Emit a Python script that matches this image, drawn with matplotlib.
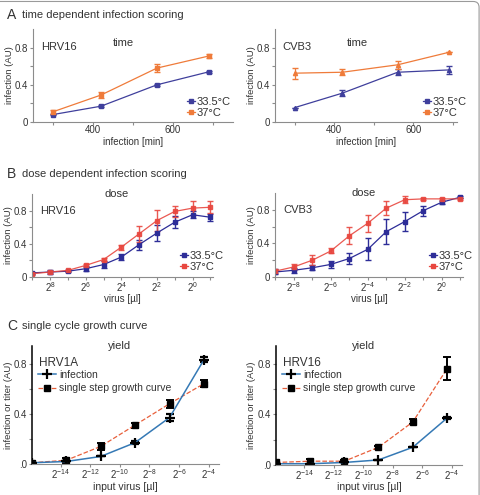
import matplotlib
matplotlib.use("Agg")
import matplotlib.pyplot as plt
from matplotlib.patches import FancyBboxPatch
from matplotlib.lines import Line2D

plt.rcParams['font.family'] = ['Liberation Sans', 'DejaVu Sans']
plt.rcParams['mathtext.fontset'] = 'custom'
plt.rcParams['mathtext.rm'] = 'Liberation Sans'
plt.rcParams['mathtext.it'] = 'Liberation Sans:italic'

# ---- data ----
# A: time dependent infection scoring
time_min = [300, 420, 560, 690]
a_hrv_335 = [0.08, 0.17, 0.40, 0.54]
a_hrv_335_err = [0.01, 0.01, 0.01, 0.01]
a_hrv_37 = [0.11, 0.29, 0.58, 0.71]
a_hrv_37_err = [0.02, 0.03, 0.04, 0.02]
a_cvb_335 = [0.155, 0.31, 0.535, 0.56]
a_cvb_335_err = [0.0, 0.03, 0.03, 0.04]
a_cvb_37 = [0.525, 0.535, 0.615, 0.75]
a_cvb_37_err = [0.06, 0.03, 0.04, 0.0]

# B: dose dependent infection scoring (log2 of virus volume)
dose_exp = [-9, -8, -7, -6, -5, -4, -3, -2, -1, 0, 1]
b_hrv_335 = [0.05, 0.06, 0.07, 0.10, 0.15, 0.24, 0.39, 0.53, 0.66, 0.75, 0.72]
b_hrv_335_err = [0.01, 0.02, 0.01, 0.03, 0.04, 0.04, 0.06, 0.10, 0.07, 0.04, 0.04]
b_hrv_37 = [0.04, 0.06, 0.08, 0.14, 0.21, 0.36, 0.52, 0.68, 0.79, 0.83, 0.84]
b_hrv_37_err = [0.01, 0.01, 0.01, 0.02, 0.02, 0.03, 0.10, 0.13, 0.07, 0.08, 0.07]
b_cvb_335 = [0.06, 0.08, 0.11, 0.15, 0.22, 0.33, 0.54, 0.66, 0.79, 0.89, 0.95]
b_cvb_335_err = [0.03, 0.03, 0.03, 0.04, 0.06, 0.13, 0.15, 0.11, 0.06, 0.02, 0.01]
b_cvb_37 = [0.07, 0.12, 0.20, 0.31, 0.49, 0.64, 0.82, 0.92, 0.93, 0.93, 0.93]
b_cvb_37_err = [0.02, 0.04, 0.06, 0.03, 0.10, 0.10, 0.08, 0.04, 0.01, 0.01, 0.01]

# C: single cycle growth curve (log2 of input virus)
input_exp = [-15.93, -13.61, -11.29, -8.97, -6.64, -4.32]
c_1a_inf = [0.01, 0.02, 0.06, 0.17, 0.37, 0.83]
c_1a_inf_err = [0.0, 0.0, 0.0, 0.01, 0.03, 0.02]
c_1a_yield = [0.01, 0.03, 0.14, 0.31, 0.48, 0.64]
c_1a_yield_err = [0.01, 0.02, 0.03, 0.02, 0.03, 0.03]
c_16_inf = [0.01, 0.01, 0.02, 0.04, 0.14, 0.37]
c_16_inf_err = [0.0, 0.0, 0.0, 0.0, 0.0, 0.01]
c_16_yield = [0.02, 0.03, 0.03, 0.14, 0.34, 0.76]
c_16_yield_err = [0.01, 0.02, 0.01, 0.01, 0.02, 0.09]

BLUE_A = '#3f3f9c'
ORANGE_A = '#ef7b3a'
BLUE_B = '#2d2d98'
RED_B = '#e8473f'
BLUE_C = '#3579b5'
RED_C = '#e8603c'
GRAY = '#8c8c8c'
TXT = '#333333'

W, H = 481, 495
fig = plt.figure(figsize=(W / 100, H / 100), dpi=100)


def px_axes(x0, x1, ytop, ybot):
    ax = fig.add_axes([x0 / W, 1 - ybot / H, (x1 - x0) / W, (ybot - ytop) / H])
    ax.px = (x0, x1, ytop, ybot)
    return ax


def place_labels(ax, ylab_x, xlab_y):
    x0, x1, ytop, ybot = ax.px
    ax.yaxis.set_label_coords((ylab_x - x0) / (x1 - x0), 0.5)
    ax.yaxis.label.set_va('center')
    ax.xaxis.set_label_coords(0.5, (ybot - xlab_y) / (ybot - ytop))
    ax.xaxis.label.set_va('center')


def at_px(ax, x, y):
    x0, x1, ytop, ybot = ax.px
    return ((x - x0) / (x1 - x0), (ybot - y) / (ybot - ytop))


def style(ax, ycol=GRAY):
    for s in ['top', 'right']:
        ax.spines[s].set_visible(False)
    ax.spines['bottom'].set_color(GRAY)
    ax.spines['left'].set_color(ycol)
    ax.tick_params(colors=GRAY, labelcolor=TXT, labelsize=7, length=3, width=0.8)
    ax.tick_params(axis='x', pad=0, length=2.5)
    ax.tick_params(axis='y', pad=1, length=2.5)
    ax.tick_params(which='minor', colors=GRAY, length=2.5, width=0.8)
    ax.set_yticks([0, 0.4, 0.8])
    ax.set_yticklabels(['0', '0.4', '0.8'])
    ax.set_yticks([0.2, 0.6], minor=True)


def legend_temp(ax, c1, c2, mk, ms, x, y):
    h = [Line2D([], [], color=c1, marker=mk, ms=ms, lw=0.9),
         Line2D([], [], color=c2, marker=mk, ms=ms, lw=0.9)]
    ax.legend(h, ['33.5°C', '37°C'], loc='lower right', bbox_to_anchor=at_px(ax, x, y),
              frameon=False, fontsize=8, handlelength=0.7, handletextpad=0.15,
              labelspacing=0.1, borderpad=0, borderaxespad=0, labelcolor=TXT)


# ---- A ----
axA1 = px_axes(33, 233, 29, 122)
axA2 = px_axes(275, 457, 29, 122)
for ax, d1, e1, d2, e2, name, mk, xmax, lx, legx in [
        (axA1, a_hrv_335, a_hrv_335_err, a_hrv_37, a_hrv_37_err, 'HRV16', 's', 750, 9.5, 231),
        (axA2, a_cvb_335, a_cvb_335_err, a_cvb_37, a_cvb_37_err, 'CVB3', '^', 710, 251.5, 467)]:
    ax.errorbar(time_min, d1, yerr=e1, color=BLUE_A, marker=mk, ms=3, lw=0.9,
                capsize=2, elinewidth=0.9)
    ax.errorbar(time_min, d2, yerr=e2, color=ORANGE_A, marker=mk, ms=3, lw=0.9,
                capsize=2, elinewidth=0.9)
    style(ax)
    ax.set_xlim(250, xmax)
    ax.set_ylim(0, 1.0)
    ax.set_xticks([400, 600])
    ax.set_xticks([300, 500, 700], minor=True)
    ax.set_xlabel('infection [min]', fontsize=7, color=TXT)
    ax.set_ylabel('infection (AU)', fontsize=6.8, color=TXT)
    place_labels(ax, lx, 142)
    ax.text(0.04, 0.81, name, transform=ax.transAxes, fontsize=8, color=TXT, va='center')
    ax.text(0.45, 0.85, 'time', transform=ax.transAxes, fontsize=8, color=TXT,
            va='center', ha='center')
    legend_temp(ax, BLUE_A, ORANGE_A, 's', 3, legx, 118)

# ---- B ----
axB1 = px_axes(32, 213, 194, 277)
axB2 = px_axes(275, 463, 193, 277)
for ax, d1, e1, d2, e2, name, neg, lx, legx in [
        (axB1, b_hrv_335, b_hrv_335_err, b_hrv_37, b_hrv_37_err, 'HRV16', '', 9, 224),
        (axB2, b_cvb_335, b_cvb_335_err, b_cvb_37, b_cvb_37_err, 'CVB3', '-', 251.5, 473)]:
    ax.errorbar(dose_exp, d1, yerr=e1, color=BLUE_B, marker='s', ms=3.5, lw=0.9,
                capsize=2.5, elinewidth=1.0)
    ax.errorbar(dose_exp, d2, yerr=e2, color=RED_B, marker='s', ms=3.5, lw=0.9,
                capsize=2.5, elinewidth=1.0, alpha=0.9)
    style(ax)
    ax.set_xlim(-9.02, 1.15)
    ax.set_ylim(0, 1.0)
    ax.set_xticks([-8, -6, -4, -2, 0])
    ax.set_xticklabels([r'$\mathregular{2^{%s8}}$' % neg, r'$\mathregular{2^{%s6}}$' % neg,
                        r'$\mathregular{2^{%s4}}$' % neg, r'$\mathregular{2^{%s2}}$' % neg,
                        r'$\mathregular{2^{0}}$'])
    ax.set_xticks([-9, -7, -5, -3, -1, 1], minor=True)
    ax.set_xlabel('virus [µl]', fontsize=7, color=TXT)
    ax.set_ylabel('infection (AU)', fontsize=6.8, color=TXT)
    place_labels(ax, lx, 299)
    ax.text(0.045, 0.80, name, transform=ax.transAxes, fontsize=8, color=TXT, va='center')
    ax.text(0.47, 1.0, 'dose', transform=ax.transAxes, fontsize=8, color=TXT,
            va='center', ha='center')
    legend_temp(ax, BLUE_B, RED_B, 's', 3.5, legx, 272)

# ---- C ----
axC1 = px_axes(32, 219, 346, 464)
axC2 = px_axes(276, 462, 346, 465)
for ax, inf, inf_e, yl, yl_e, name, lx in [
        (axC1, c_1a_inf, c_1a_inf_err, c_1a_yield, c_1a_yield_err, 'HRV1A', 9),
        (axC2, c_16_inf, c_16_inf_err, c_16_yield, c_16_yield_err, 'HRV16', 251)]:
    ax.errorbar(input_exp, yl, yerr=yl_e, color=RED_C, ls='--', lw=0.9,
                marker='s', ms=4.5, mfc='black', mec='black',
                ecolor='black', elinewidth=1.4, capsize=3, capthick=1.4)
    ax.errorbar(input_exp, inf, yerr=inf_e, color=BLUE_C, lw=1.1,
                marker='+', ms=7, mew=1.6, mec='black',
                ecolor='black', elinewidth=1.2, capsize=3, capthick=1.2)
    style(ax, ycol='black')
    ax.spines['left'].set_linewidth(1.1)
    ax.set_yticklabels(['.0', '0.4', '0.8'])
    ax.set_xlim(-15.93, -3.3)
    ax.set_ylim(0, 0.94)
    ax.set_xticks([-14, -12, -10, -8, -6, -4])
    ax.set_xticklabels([r'$\mathregular{2^{-%d}}$' % k for k in [14, 12, 10, 8, 6, 4]])
    ax.set_xlabel('input virus [µl]', fontsize=7.5, color=TXT)
    ax.set_ylabel('infection or titer (AU)', fontsize=6.8, color=TXT)
    place_labels(ax, lx, 487)
    ax.text(0.04, 0.86, name, transform=ax.transAxes, fontsize=8.5, color=TXT, va='center')
    ax.text(0.47, 1.0, 'yield', transform=ax.transAxes, fontsize=8, color=TXT,
            va='center', ha='center')
    h = [Line2D([], [], color=BLUE_C, lw=1.1, marker='+', ms=7, mew=1.6, mec='black'),
         Line2D([], [], color=RED_C, lw=0.9, ls='--', marker='s', ms=4.5,
                mfc='black', mec='black')]
    ax.legend(h, ['infection', 'single step growth curve'], loc='upper left',
              bbox_to_anchor=(0.03, 0.8), frameon=False, fontsize=7.5,
              handlelength=1.8, handletextpad=0.3, labelspacing=0.35,
              borderpad=0, borderaxespad=0, labelcolor=TXT)

# ---- section headers ----
for y, letter, title in [(15, 'A', 'time dependent infection scoring'),
                         (174, 'B', 'dose dependent infection scoring'),
                         (326, 'C', 'single cycle growth curve')]:
    fig.text(7 / W, 1 - y / H, letter, fontsize=10, color=TXT, va='center')
    fig.text(21.5 / W, 1 - y / H, title, fontsize=8, color=TXT, va='center')

# figure frame
fig.patches.append(FancyBboxPatch((-0.05, -0.05), 1.046, 1.047,
                                  boxstyle='round,pad=0,rounding_size=0.012',
                                  transform=fig.transFigure, fill=False,
                                  ec='#9a9a9a', lw=0.8))

fig.savefig('out.png', dpi=100)
